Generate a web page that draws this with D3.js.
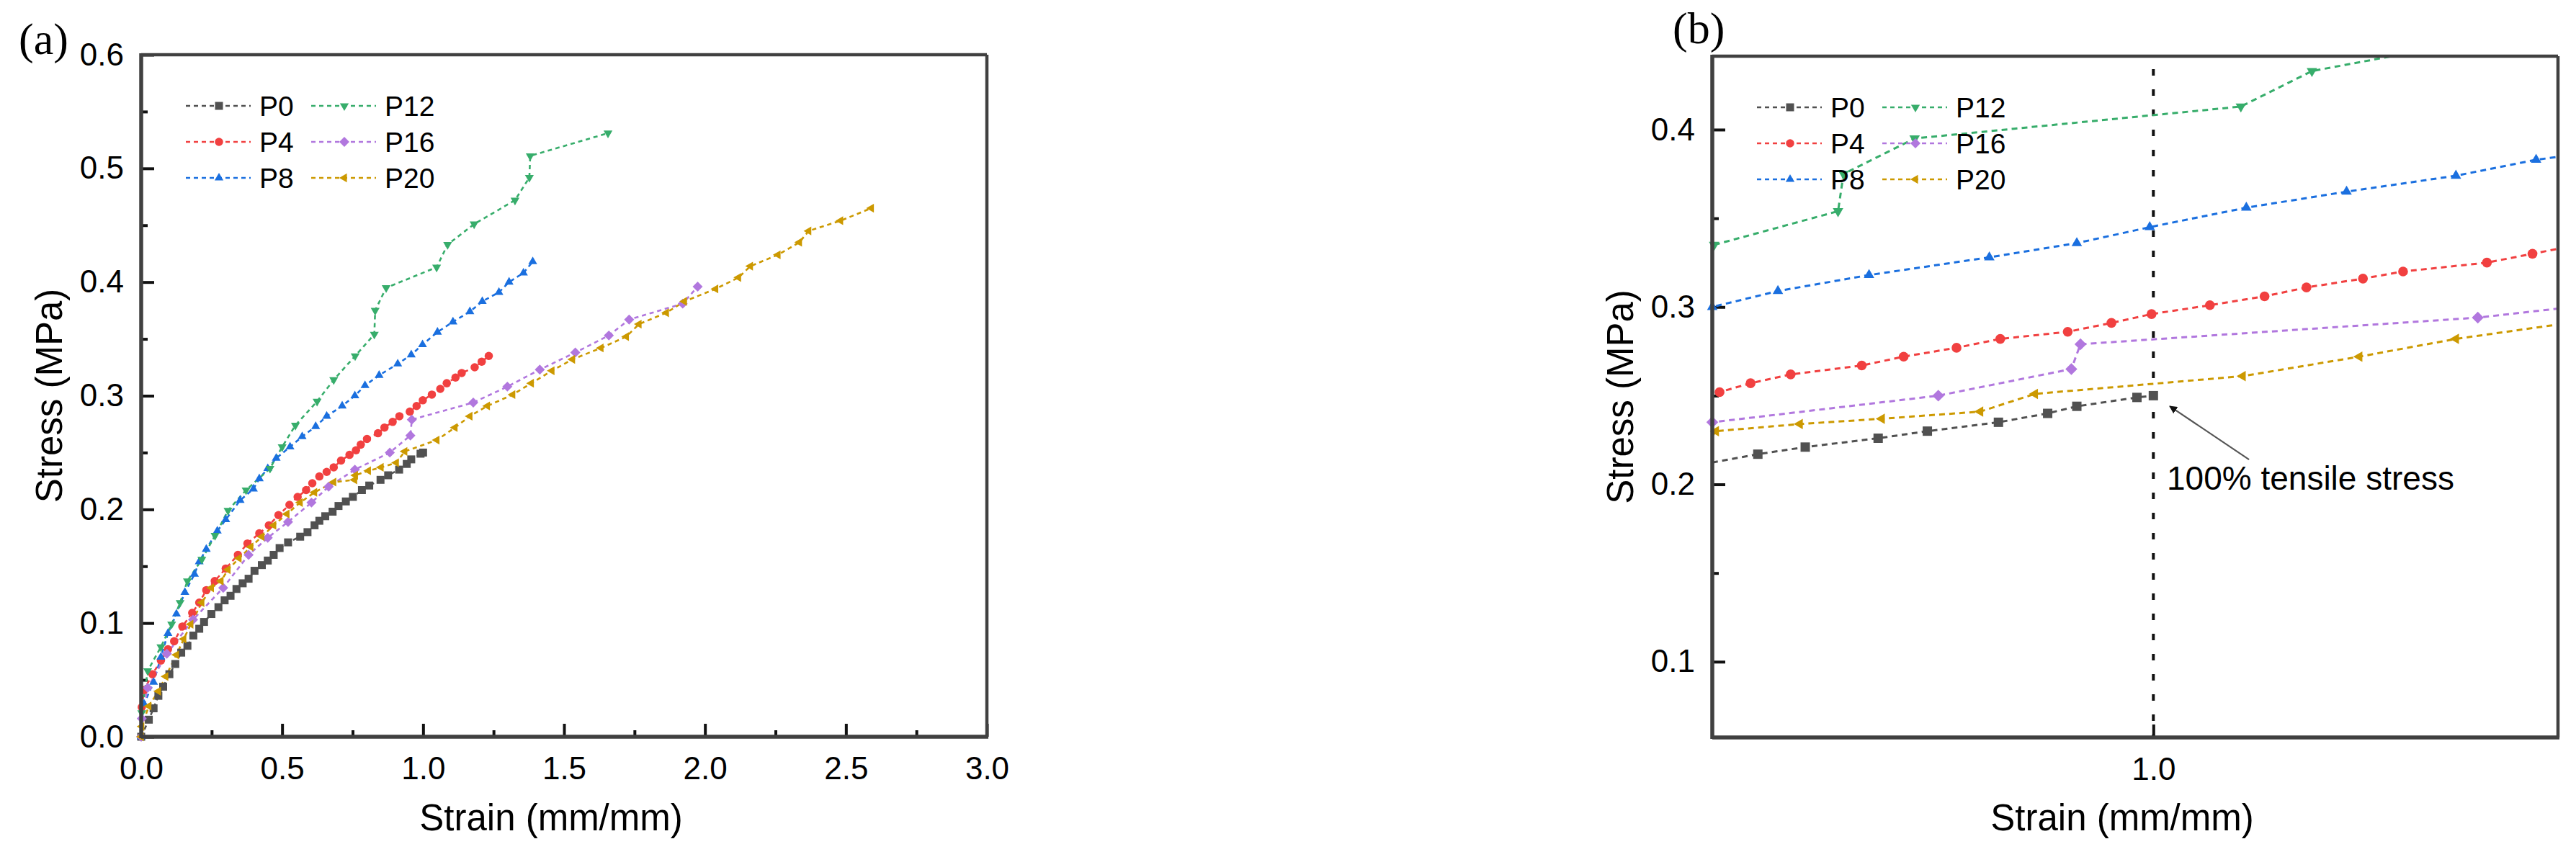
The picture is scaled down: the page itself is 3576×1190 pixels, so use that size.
<!DOCTYPE html>
<html>
<head>
<meta charset="utf-8">
<script src="https://cdn.jsdelivr.net/npm/d3@7"></script>
<style>
  html, body { margin: 0; padding: 0; background: #fff; }
  svg text { font-family: "Liberation Sans", Arial, sans-serif; fill: #000; }
</style>
</head>
<body>
<div id="chart"></div>
<script>
// stress-strain data, strain in mm/mm, stress in MPa
const seriesNames = ["P0", "P4", "P8", "P12", "P16", "P20"];
const seriesColors = ["#515151", "#F14040", "#1A6FDF", "#37AD6B", "#B177DE", "#CC9900"];
const seriesShapes = ["square", "circle", "triUp", "triDown", "diamond", "triLeft"];

const p0Strain = [0.0, 0.027, 0.044, 0.061, 0.078, 0.100, 0.121, 0.142, 0.164, 0.185, 0.206, 0.223, 0.249, 0.274, 0.296, 0.317, 0.338, 0.360, 0.381, 0.402, 0.428, 0.449, 0.470, 0.491, 0.521, 0.564, 0.590, 0.615, 0.632, 0.653, 0.679, 0.700, 0.726, 0.751, 0.783, 0.809, 0.849, 0.876, 0.915, 0.942, 0.958, 0.991, 1.0];
const p0Stress = [0.0, 0.015, 0.025, 0.036, 0.044, 0.055, 0.064, 0.074, 0.080, 0.089, 0.095, 0.101, 0.108, 0.114, 0.120, 0.124, 0.130, 0.135, 0.139, 0.146, 0.151, 0.155, 0.160, 0.166, 0.171, 0.176, 0.180, 0.186, 0.190, 0.194, 0.198, 0.203, 0.207, 0.211, 0.217, 0.221, 0.226, 0.230, 0.235, 0.240, 0.244, 0.249, 0.250];

const p4Strain = [0.002, 0.010, 0.040, 0.070, 0.095, 0.117, 0.146, 0.181, 0.206, 0.231, 0.261, 0.300, 0.343, 0.377, 0.419, 0.453, 0.487, 0.526, 0.555, 0.585, 0.607, 0.632, 0.658, 0.683, 0.709, 0.739, 0.762, 0.779, 0.801, 0.840, 0.863, 0.892, 0.916, 0.953, 0.977, 0.999, 1.031, 1.061, 1.084, 1.115, 1.137, 1.183, 1.208, 1.233];
const p4Stress = [0.026, 0.041, 0.055, 0.067, 0.077, 0.084, 0.097, 0.109, 0.118, 0.129, 0.137, 0.148, 0.160, 0.170, 0.179, 0.186, 0.195, 0.204, 0.211, 0.217, 0.223, 0.229, 0.233, 0.237, 0.243, 0.248, 0.252, 0.257, 0.262, 0.267, 0.272, 0.277, 0.282, 0.286, 0.291, 0.296, 0.301, 0.306, 0.311, 0.316, 0.320, 0.325, 0.330, 0.335];

const p8Strain = [0.0, 0.010, 0.044, 0.070, 0.095, 0.125, 0.155, 0.189, 0.206, 0.231, 0.270, 0.300, 0.351, 0.398, 0.419, 0.449, 0.479, 0.528, 0.571, 0.619, 0.658, 0.713, 0.758, 0.794, 0.844, 0.910, 0.958, 0.998, 1.051, 1.106, 1.166, 1.210, 1.269, 1.305, 1.356, 1.389];
const p8Stress = [0.0, 0.029, 0.048, 0.070, 0.091, 0.108, 0.127, 0.143, 0.154, 0.165, 0.181, 0.191, 0.208, 0.218, 0.227, 0.236, 0.245, 0.255, 0.264, 0.273, 0.282, 0.291, 0.300, 0.309, 0.318, 0.328, 0.336, 0.345, 0.356, 0.365, 0.374, 0.383, 0.391, 0.400, 0.408, 0.418];

const p12Strain = [0.002, 0.023, 0.070, 0.108, 0.138, 0.164, 0.215, 0.262, 0.308, 0.372, 0.457, 0.500, 0.547, 0.624, 0.683, 0.759, 0.827, 0.830, 0.869, 1.048, 1.087, 1.181, 1.326, 1.377, 1.380, 1.656];
const p12Stress = [0.021, 0.058, 0.079, 0.099, 0.118, 0.137, 0.156, 0.177, 0.199, 0.217, 0.236, 0.255, 0.274, 0.295, 0.314, 0.335, 0.354, 0.375, 0.395, 0.413, 0.433, 0.451, 0.472, 0.492, 0.511, 0.531];

const p16Strain = [0.0, 0.002, 0.023, 0.091, 0.184, 0.291, 0.381, 0.449, 0.521, 0.604, 0.665, 0.758, 0.882, 0.955, 0.960, 1.178, 1.299, 1.414, 1.540, 1.659, 1.731, 1.921, 1.974];
const p16Stress = [0.0, 0.016, 0.043, 0.073, 0.103, 0.131, 0.160, 0.175, 0.189, 0.206, 0.220, 0.235, 0.250, 0.265, 0.279, 0.294, 0.308, 0.323, 0.338, 0.353, 0.367, 0.381, 0.396];

const p20Strain = [0.0, 0.002, 0.027, 0.061, 0.087, 0.125, 0.151, 0.176, 0.215, 0.249, 0.283, 0.308, 0.347, 0.389, 0.428, 0.470, 0.517, 0.564, 0.615, 0.683, 0.757, 0.760, 0.806, 0.851, 0.905, 0.935, 1.049, 1.113, 1.166, 1.228, 1.318, 1.384, 1.457, 1.530, 1.631, 1.721, 1.766, 1.863, 1.927, 2.038, 2.119, 2.161, 2.259, 2.335, 2.368, 2.481, 2.590];
const p20Stress = [0.0, 0.009, 0.027, 0.040, 0.053, 0.072, 0.086, 0.099, 0.118, 0.131, 0.137, 0.147, 0.157, 0.167, 0.176, 0.186, 0.196, 0.206, 0.215, 0.224, 0.226, 0.230, 0.234, 0.237, 0.241, 0.251, 0.261, 0.272, 0.282, 0.291, 0.301, 0.311, 0.322, 0.332, 0.342, 0.352, 0.363, 0.373, 0.383, 0.394, 0.404, 0.414, 0.424, 0.435, 0.445, 0.454, 0.465];

// axis ticks
const aXTicks = [0, 0.5, 1.0, 1.5, 2.0, 2.5, 3.0];
const aXMinor = [0.25, 0.75, 1.25, 1.75, 2.25, 2.75];
const aYTicks = [0, 0.1, 0.2, 0.3, 0.4, 0.5, 0.6];
const aYMinor = [0.05, 0.15, 0.25, 0.35, 0.45, 0.55];
const bXTicks = [1.0];
const bYTicks = [0.1, 0.2, 0.3, 0.4];
const bYMinor = [0.15, 0.25, 0.35];

// annotation in panel (b)
const noteText = "100% tensile stress";
const noteLine = [1.0, 0.4414]; // 100 % strain marker, x then y top
const noteArrow = [[1.0525, 0.214], [1.009, 0.244]];

const strains = [p0Strain, p4Strain, p8Strain, p12Strain, p16Strain, p20Strain];
const stresses = [p0Stress, p4Stress, p8Stress, p12Stress, p16Stress, p20Stress];
const series = seriesNames.map((name, i) => ({
  name: name,
  color: seriesColors[i],
  shape: seriesShapes[i],
  values: strains[i].map((s, j) => ({ strain: s, stress: stresses[i][j] })),
}));

const W = 3576, H = 1190;
const svg = d3.select("#chart").append("svg")
  .attr("width", W).attr("height", H)
  .attr("viewBox", `0 0 ${W} ${H}`);

const defs = svg.append("defs");
defs.append("marker")
  .attr("id", "arrowHead")
  .attr("viewBox", "0 0 10 10")
  .attr("refX", 9).attr("refY", 5)
  .attr("markerWidth", 5).attr("markerHeight", 5)
  .attr("markerUnits", "strokeWidth")
  .attr("orient", "auto")
  .append("path")
  .attr("d", "M0,0 L10,5 L0,10 z")
  .attr("fill", "#111");

// symbol path for a marker shape, s = nominal size in px
function symbolPath(shape, s) {
  if (shape === "square") return d3.symbol(d3.symbolSquare, s * s)();
  if (shape === "circle") return d3.symbol(d3.symbolCircle, Math.PI * (s / 2) * (s / 2) * 1.1)();
  if (shape === "diamond") return d3.symbol(d3.symbolSquare, s * s * 0.8)();
  return d3.symbol(d3.symbolTriangle, (Math.sqrt(3) / 4) * s * s * 1.25)();
}
function symbolRotate(shape) {
  if (shape === "triDown") return 180;
  if (shape === "triLeft") return -90;
  if (shape === "diamond") return 45;
  return 0;
}

function drawPanel(p) {
  const g = svg.append("g");
  const x = d3.scaleLinear().domain(p.xDomain).range([p.left, p.right]);
  const y = d3.scaleLinear().domain(p.yDomain).range([p.bottom, p.top]);

  const clipId = "clip-" + p.id;
  defs.append("clipPath").attr("id", clipId)
    .append("rect")
    .attr("x", p.left).attr("y", p.top)
    .attr("width", p.right - p.left).attr("height", p.bottom - p.top);

  // minor ticks
  g.append("g")
    .attr("transform", `translate(0,${p.bottom})`)
    .call(d3.axisBottom(x).tickValues(p.xMinor).tickSize(-9).tickFormat(""))
    .call((a) => a.select(".domain").remove())
    .call((a) => a.selectAll("line").attr("stroke", "#111").attr("stroke-width", 4));
  g.append("g")
    .attr("transform", `translate(${p.left},0)`)
    .call(d3.axisLeft(y).tickValues(p.yMinor).tickSize(-9).tickFormat(""))
    .call((a) => a.select(".domain").remove())
    .call((a) => a.selectAll("line").attr("stroke", "#111").attr("stroke-width", 4));

  // major ticks and labels
  const xAxis = g.append("g")
    .attr("transform", `translate(0,${p.bottom})`)
    .call(d3.axisBottom(x).tickValues(p.xTicks).tickSize(-18).tickPadding(28).tickFormat(d3.format(".1f")));
  xAxis.select(".domain").remove();
  xAxis.selectAll("line").attr("stroke", "#111").attr("stroke-width", 4);
  xAxis.selectAll("text").style("font-size", "44px");

  const yAxis = g.append("g")
    .attr("transform", `translate(${p.left},0)`)
    .call(d3.axisLeft(y).tickValues(p.yTicks).tickSize(-18).tickPadding(24).tickFormat(d3.format(".1f")));
  yAxis.select(".domain").remove();
  yAxis.selectAll("line").attr("stroke", "#111").attr("stroke-width", 4);
  yAxis.selectAll("text").style("font-size", "44px");

  // axis titles
  g.append("text")
    .attr("x", (p.left + p.right) / 2 - 18)
    .attr("y", 1153)
    .attr("text-anchor", "middle")
    .style("font-size", "51px")
    .text("Strain (mm/mm)");
  g.append("text")
    .attr("transform", `translate(${p.left - 110},${(p.top + p.bottom) / 2}) rotate(-90)`)
    .attr("text-anchor", "middle")
    .style("font-size", "51px")
    .text("Stress (MPa)");

  // panel letter
  g.append("text")
    .attr("x", p.letterX).attr("y", p.letterY)
    .style("font-family", "'Liberation Serif', 'Times New Roman', serif")
    .style("font-size", "62px")
    .text(p.letter);

  // reference line + note (panel b)
  if (p.note) {
    g.append("line")
      .attr("x1", x(noteLine[0])).attr("x2", x(noteLine[0]))
      .attr("y1", y(noteLine[1])).attr("y2", p.bottom)
      .attr("stroke", "#111").attr("stroke-width", 4)
      .attr("stroke-dasharray", "9,19").attr("stroke-dashoffset", 10);
  }

  // series lines
  const line = d3.line().x((d) => x(d.strain)).y((d) => y(d.stress));
  const plot = g.append("g").attr("clip-path", `url(#${clipId})`);
  series.forEach((s) => {
    plot.append("path")
      .attr("d", line(s.values))
      .attr("fill", "none")
      .attr("stroke", s.color)
      .attr("stroke-width", p.lineWidth)
      .attr("stroke-dasharray", p.dash);
  });

  // markers (only points inside the axis range)
  series.forEach((s) => {
    const pts = s.values.filter((d) =>
      d.strain >= p.xDomain[0] - 1e-9 && d.strain <= p.xDomain[1] &&
      d.stress >= p.yDomain[0] && d.stress <= p.yDomain[1]);
    g.append("g").selectAll("path")
      .data(pts)
      .join("path")
      .attr("d", symbolPath(s.shape, p.markerSize))
      .attr("transform", (d) => `translate(${x(d.strain)},${y(d.stress)}) rotate(${symbolRotate(s.shape)})`)
      .attr("fill", s.color);
  });

  if (p.note) {
    g.append("line")
      .attr("x1", x(noteArrow[0][0])).attr("y1", y(noteArrow[0][1]))
      .attr("x2", x(noteArrow[1][0])).attr("y2", y(noteArrow[1][1]))
      .attr("stroke", "#555").attr("stroke-width", 2.2)
      .attr("marker-end", "url(#arrowHead)");
    g.append("text")
      .attr("x", x(1.0074)).attr("y", y(0.197))
      .style("font-size", "46px")
      .text(noteText);
  }

  // frame
  g.append("line").attr("x1", p.left).attr("x2", p.right).attr("y1", p.top).attr("y2", p.top)
    .attr("stroke", "#404040").attr("stroke-width", 4.5);
  g.append("line").attr("x1", p.right).attr("x2", p.right).attr("y1", p.top).attr("y2", p.bottom)
    .attr("stroke", "#404040").attr("stroke-width", 4.5);
  g.append("line").attr("x1", p.left).attr("x2", p.right + 2).attr("y1", p.bottom).attr("y2", p.bottom)
    .attr("stroke", "#404040").attr("stroke-width", 5.5);
  g.append("line").attr("x1", p.left).attr("x2", p.left).attr("y1", p.top - 2).attr("y2", p.bottom + 2)
    .attr("stroke", "#404040").attr("stroke-width", 5.5);

  // legend
  const leg = g.append("g");
  series.forEach((s, i) => {
    const col = Math.floor(i / 3), row = i % 3;
    const lx = p.left + 62 + col * 174;
    const ly = p.top + 71 + row * 50;
    leg.append("line")
      .attr("x1", lx).attr("x2", lx + 90).attr("y1", ly).attr("y2", ly)
      .attr("stroke", s.color).attr("stroke-width", 2.6).attr("stroke-dasharray", "6,5");
    leg.append("path")
      .attr("d", symbolPath(s.shape, 11))
      .attr("transform", `translate(${lx + 46},${ly}) rotate(${symbolRotate(s.shape)})`)
      .attr("fill", s.color);
    leg.append("text")
      .attr("x", lx + 102).attr("y", ly)
      .attr("dy", "0.36em")
      .style("font-size", "39px")
      .text(s.name);
  });
}

drawPanel({
  id: "a", letter: "(a)", letterX: 26, letterY: 75,
  left: 196, right: 1370, top: 76, bottom: 1023,
  xDomain: [0, 3], yDomain: [0, 0.6],
  xTicks: aXTicks, xMinor: aXMinor, yTicks: aYTicks, yMinor: aYMinor,
  lineWidth: 2.6, dash: "6,5", markerSize: 11, note: false,
});

drawPanel({
  id: "b", letter: "(b)", letterX: 2322, letterY: 60,
  left: 2377, right: 3551, top: 78, bottom: 1024,
  xDomain: [0.758, 1.222], yDomain: [0.0573, 0.4414],
  xTicks: bXTicks, xMinor: [], yTicks: bYTicks, yMinor: bYMinor,
  lineWidth: 3, dash: "8,6", markerSize: 13, note: true,
});
</script>
</body>
</html>
